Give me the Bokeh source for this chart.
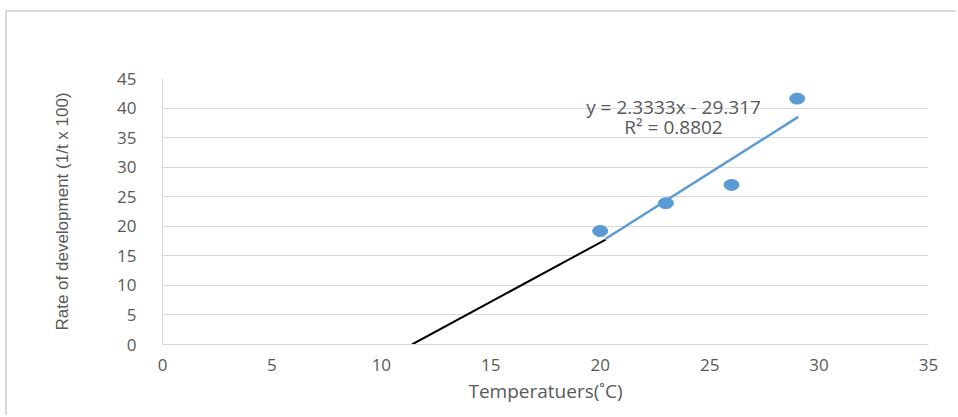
from bokeh.plotting import figure
from bokeh.models import Range1d, FixedTicker, Label
from bokeh.embed import file_html
from bokeh.resources import INLINE

# Data
temperature = [20, 23, 26, 29]
rate = [19.2, 23.9, 27.0, 41.6]
trend_x = [20.25, 29.05]
trend_y = [17.9, 38.5]
extrap_x = [11.4, 20.25]
extrap_y = [0.0, 17.75]
x_ticks = [0, 5, 10, 15, 20, 25, 30, 35]
y_ticks = [0, 5, 10, 15, 20, 25, 30, 35, 40, 45]
equation = "y = 2.3333x - 29.317"
r_squared = "R² = 0.8802"

GRAY = "#595959"
GRID = "#d9d9d9"
BLUE = "#5B9BD5"

p = figure(width=951, height=405, output_backend="svg", toolbar_location=None,
           x_range=Range1d(0, 35), y_range=Range1d(0, 45),
           min_border_left=155, min_border_right=30, min_border_top=66,
           min_border_bottom=73)
p.styles = {"margin-left": "5px", "margin-top": "10px",
            "border-top": "2px solid #d9d9d9", "border-left": "2px solid #d9d9d9"}
p.outline_line_color = None
p.background_fill_color = "white"
p.border_fill_color = "white"

p.xgrid.grid_line_color = None
p.ygrid.grid_line_color = GRID
p.ygrid.grid_line_width = 1

for ax in (p.xaxis[0], p.yaxis[0]):
    ax.major_tick_line_color = None
    ax.minor_tick_line_color = None
    ax.axis_line_color = GRID
    ax.major_label_text_color = GRAY
    ax.major_label_text_font = "Open Sans"
    ax.major_label_text_font_size = "17px"
    ax.axis_label_text_color = GRAY
    ax.axis_label_text_font_style = "normal"

p.xaxis[0].ticker = FixedTicker(ticks=x_ticks)
p.yaxis[0].ticker = FixedTicker(ticks=y_ticks)
p.xaxis[0].major_label_standoff = 8
p.yaxis[0].major_label_standoff = 20
p.xaxis[0].axis_label = "Temperatuers(˚C)"
p.xaxis[0].axis_label_text_font = "Open Sans"
p.xaxis[0].axis_label_text_font_size = "19px"
p.xaxis[0].axis_label_standoff = 4
p.yaxis[0].axis_label = "Rate of development (1/t x 100)"
p.yaxis[0].axis_label_text_font = "Liberation Sans"
p.yaxis[0].axis_label_text_font_size = "17px"
p.yaxis[0].axis_label_standoff = 42

p.line(extrap_x, extrap_y, line_color="black", line_width=2)
p.line(trend_x, trend_y, line_color=BLUE, line_width=2.5)
p.ellipse(x=temperature, y=rate, width=15, height=11, width_units="screen",
          height_units="screen", fill_color=BLUE, line_color=BLUE)

p.add_layout(Label(x=23.35, y=40.2, text=equation, text_align="center",
                   text_baseline="middle", text_color=GRAY, text_font="Open Sans",
                   text_font_size="19px"))
p.add_layout(Label(x=23.35, y=36.8, text=r_squared, text_align="center",
                   text_baseline="middle", text_color=GRAY, text_font="Open Sans",
                   text_font_size="19px"))

open("out.html", "w").write(file_html(p, INLINE))
